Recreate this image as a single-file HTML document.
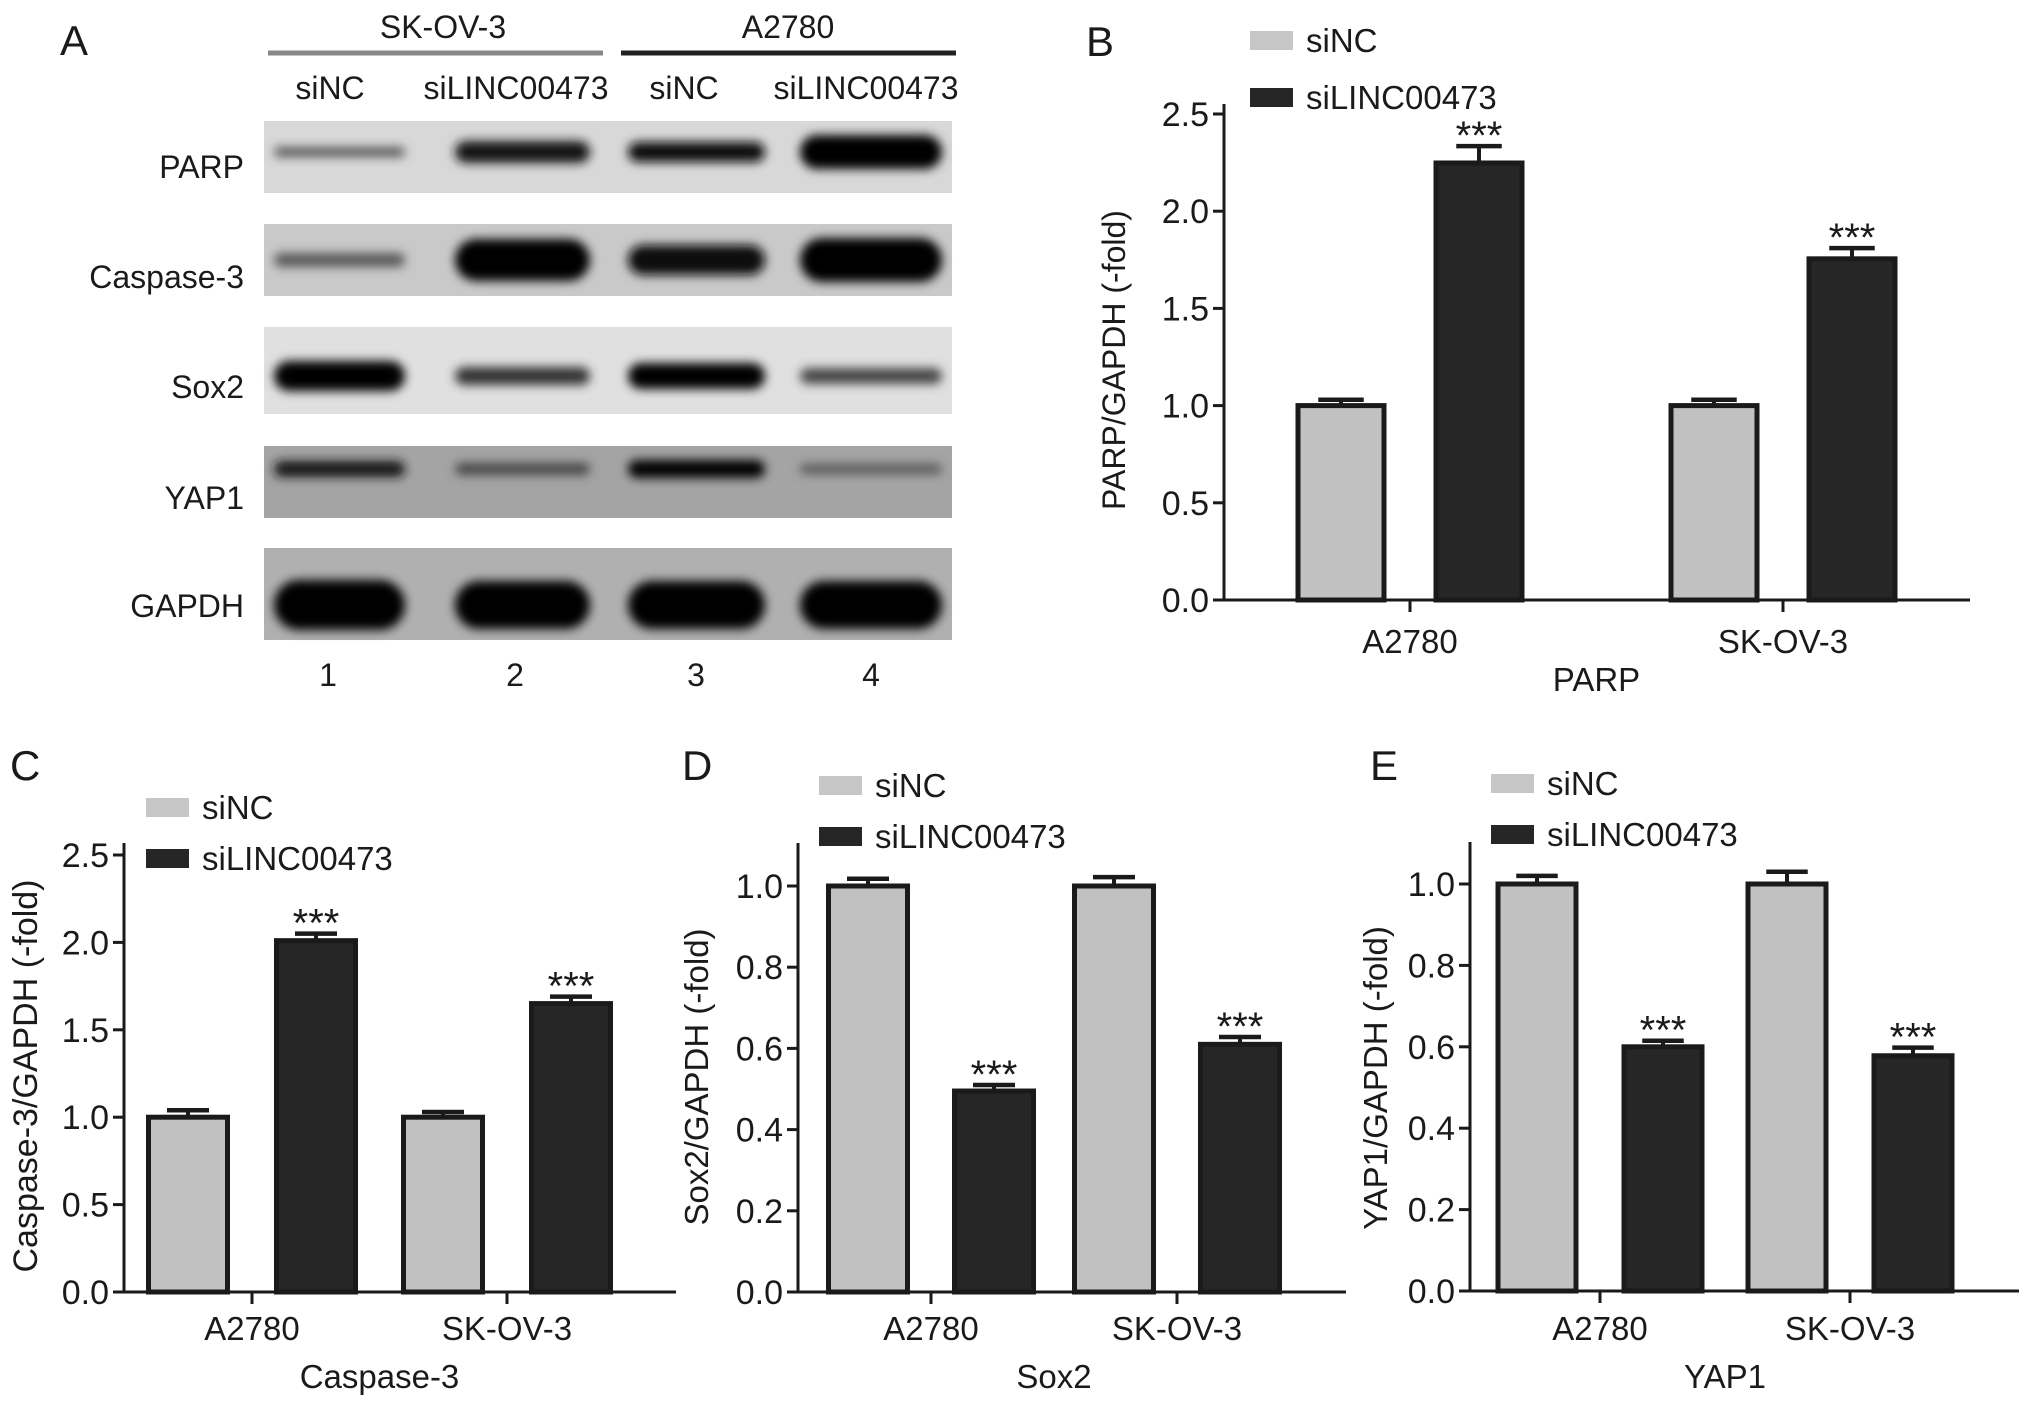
<!DOCTYPE html>
<html><head><meta charset="utf-8"><title>Figure</title>
<style>html,body{margin:0;padding:0;background:#fff}svg{display:block}text{font-family:"Liberation Sans",Arial,sans-serif;fill:#1a1a1a}</style>
</head><body>
<svg id="fig" xmlns="http://www.w3.org/2000/svg" width="2032" height="1405" viewBox="0 0 2032 1405">
<defs><filter id="blur" x="-20%" y="-100%" width="140%" height="300%"><feGaussianBlur stdDeviation="5"/></filter></defs>
<g id="panelA">
<text x="60" y="55" font-size="42">A</text>
<line x1="268" y1="53" x2="603" y2="53" stroke="#888" stroke-width="5"/>
<line x1="621" y1="53" x2="956" y2="53" stroke="#222" stroke-width="5"/>
<text x="443" y="38" font-size="32" text-anchor="middle">SK-OV-3</text>
<text x="788" y="38" font-size="32" text-anchor="middle">A2780</text>
<text x="330" y="99" font-size="32" text-anchor="middle">siNC</text>
<text x="516" y="99" font-size="32" text-anchor="middle">siLINC00473</text>
<text x="684" y="99" font-size="32" text-anchor="middle">siNC</text>
<text x="866" y="99" font-size="32" text-anchor="middle">siLINC00473</text>
<g id="blots"></g>
<text x="328" y="686" font-size="32" text-anchor="middle">1</text>
<text x="515" y="686" font-size="32" text-anchor="middle">2</text>
<text x="696" y="686" font-size="32" text-anchor="middle">3</text>
<text x="871" y="686" font-size="32" text-anchor="middle">4</text>
</g>
<g id="charts"></g>
</svg>
<script>
const NS="http://www.w3.org/2000/svg";
const categories=["A2780","SK-OV-3"];
const seriesNames=["siNC","siLINC00473"];
const parpNC=[1.0,1.0], parpSi=[2.248,1.755], parpNCErr=[0.03,0.03], parpSiErr=[0.087,0.055];
const caspNC=[1.0,1.0], caspSi=[2.01,1.65], caspNCErr=[0.04,0.03], caspSiErr=[0.04,0.04];
const sox2NC=[1.0,1.0], sox2Si=[0.495,0.61], sox2NCErr=[0.018,0.022], sox2SiErr=[0.015,0.018];
const yap1NC=[1.0,1.0], yap1Si=[0.60,0.578], yap1NCErr=[0.02,0.03], yap1SiErr=[0.015,0.02];
const ticks25=["0.0","0.5","1.0","1.5","2.0","2.5"];
const ticks10=["0.0","0.2","0.4","0.6","0.8","1.0"];
const blotRows=["PARP","Caspase-3","Sox2","YAP1","GAPDH"];
const parpBand=[0.5,0.9,0.92,1.0], caspBand=[0.5,1.0,0.95,1.0], sox2Band=[1.0,0.7,1.0,0.6], yap1Band=[0.9,0.6,0.98,0.5], gapdhBand=[1,1,1,1];

function el(tag,attrs,parent){const e=document.createElementNS(NS,tag);for(const k in attrs)e.setAttribute(k,attrs[k]);parent.appendChild(e);return e;}
function txt(parent,x,y,s,size,anchor,extra){const t=el('text',{x:x,y:y,'font-size':size,'text-anchor':anchor||'start'},parent);if(extra)for(const k in extra)t.setAttribute(k,extra[k]);t.textContent=s;return t;}

const blots=document.getElementById('blots');
const blotGeom=[{y0:121,y1:193,bg:'#d8d8d8',cy:152,h:[10,22,20,34]},{y0:224,y1:296,bg:'#c9c9c9',cy:260,h:[14,42,30,44]},{y0:327,y1:414,bg:'#e0e0e0',cy:376,h:[30,18,26,16]},{y0:446,y1:518,bg:'#a4a4a4',cy:469,h:[16,12,18,10]},{y0:548,y1:640,bg:'#b0b0b0',cy:605,h:[50,48,48,48]}];
const bandData=[parpBand,caspBand,sox2Band,yap1Band,gapdhBand];
const laneX=[[274,405],[455,590],[628,765],[800,942]];
const labelBase=[178,288,398,509,617];
blotGeom.forEach((g,r)=>{
  const rect=el('rect',{x:264,y:g.y0,width:688,height:g.y1-g.y0,fill:g.bg},blots);
  
  
  bandData[r].forEach((v,i)=>{
    const c=Math.round(255*(1-v)*0.7);
    const b=el('rect',{x:laneX[i][0],y:g.cy-g.h[i]/2,width:laneX[i][1]-laneX[i][0],height:g.h[i],rx:g.h[i]/2,fill:'rgb('+c+','+c+','+c+')',filter:'url(#blur)'},blots);
    
    
  });
  const l=txt(blots,244,labelBase[r],blotRows[r],32,'end');
  
  
});

const charts=document.getElementById('charts');
function chart(cfg){
  const g=el('g',{},charts);
  
  
  const ys=v=>cfg.y0-(v/cfg.max)*(cfg.y0-cfg.yMax);
  const xc=i=>cfg.c0+i*cfg.step;
  [[cfg.nc,cfg.ncErr,'#c1c1c1',-1],[cfg.si,cfg.siErr,'#262626',1]].forEach((s,si)=>{
    s[0].forEach((v,i)=>{
      const cx=xc(i)+s[3]*cfg.off, top=ys(v), et=ys(v+s[1][i]);
      const eb=el('g',{},g);
      
      
      el('line',{x1:cx,y1:top,x2:cx,y2:et,stroke:'#1a1a1a','stroke-width':4},eb);
      el('line',{x1:cx-cfg.w/4,y1:et,x2:cx+cfg.w/4,y2:et,stroke:'#1a1a1a','stroke-width':4.5},eb);
      const b=el('rect',{x:cx-cfg.w/2+2.5,y:top,width:cfg.w-5,height:cfg.y0-top,fill:s[2],stroke:'#1a1a1a','stroke-width':5},g);
      
      
      if(si===1){const a=txt(g,cx,et+3,'***',40,'middle');
        
        }
    });
  });
  const ax=el('line',{x1:cfg.x0,y1:cfg.axTop,x2:cfg.x0,y2:cfg.y0+1.5,stroke:'#1a1a1a','stroke-width':3},g);
  
  
  const xa=el('line',{x1:cfg.x0-1.5,y1:cfg.y0,x2:cfg.xEnd,y2:cfg.y0,stroke:'#1a1a1a','stroke-width':3},g);
  
  
  cfg.ticks.forEach(t=>{const y=ys(parseFloat(t));
    el('line',{x1:cfg.x0-11,y1:y,x2:cfg.x0,y2:y,stroke:'#1a1a1a','stroke-width':3},g);
    const l=txt(g,cfg.x0-15,y+12,t,34,'end');
    
    });
  categories.forEach((c,i)=>{
    el('line',{x1:xc(i),y1:cfg.y0,x2:xc(i),y2:cfg.y0+12,stroke:'#1a1a1a','stroke-width':3},g);
    const l=txt(g,xc(i),cfg.catY,c,33,'middle');
    
    });
  const ti=txt(g,(cfg.c0+cfg.c0+cfg.step)/2,cfg.titleY,cfg.title,33,'middle');
  
  
  const yt=txt(g,0,0,cfg.ytitle,cfg.ytSize,'middle',{transform:'translate('+cfg.ytX+','+cfg.ytY+') rotate(-90)'});
  
  
  const pl=txt(g,cfg.labX,cfg.labY,cfg.key.toUpperCase(),42,'start');
  
  
  [['#c6c6c6',cfg.lg[1]],['#262626',cfg.lg[2]]].forEach((s,i)=>{
    const lg=el('g',{},g);
    
    
    el('rect',{x:cfg.lg[0],y:s[1],width:43,height:19,fill:s[0]},lg);
    txt(lg,cfg.lg[0]+56,s[1]+21,seriesNames[i],33,'start');
  });
}
chart({key:'b',x0:1224,xEnd:1970,y0:600,yMax:114,max:2.5,axTop:104,c0:1410,step:373,off:69,w:91,nc:parpNC,si:parpSi,ncErr:parpNCErr,siErr:parpSiErr,ticks:ticks25,catY:653,titleY:691,title:'PARP',ytitle:'PARP/GAPDH (-fold)',ytSize:32,ytX:1125,ytY:360,labX:1086,labY:56,lg:[1250,31,88]});
chart({key:'c',x0:124,xEnd:676,y0:1292,yMax:855,max:2.5,axTop:843,c0:252,step:255,off:64,w:84,nc:caspNC,si:caspSi,ncErr:caspNCErr,siErr:caspSiErr,ticks:ticks25,catY:1340,titleY:1388,title:'Caspase-3',ytitle:'Caspase-3/GAPDH (-fold)',ytSize:34,ytX:37,ytY:1076,labX:10,labY:780,lg:[146,798,849]});
chart({key:'d',x0:798,xEnd:1346,y0:1292,yMax:886,max:1.0,axTop:843,c0:931,step:246,off:63,w:84,nc:sox2NC,si:sox2Si,ncErr:sox2NCErr,siErr:sox2SiErr,ticks:ticks10,catY:1340,titleY:1388,title:'Sox2',ytitle:'Sox2/GAPDH (-fold)',ytSize:33,ytX:708,ytY:1077,labX:682,labY:780,lg:[819,776,827]});
chart({key:'e',x0:1470,xEnd:2019,y0:1291,yMax:884,max:1.0,axTop:842,c0:1600,step:250,off:63,w:83,nc:yap1NC,si:yap1Si,ncErr:yap1NCErr,siErr:yap1SiErr,ticks:ticks10,catY:1340,titleY:1388,title:'YAP1',ytitle:'YAP1/GAPDH (-fold)',ytSize:33,ytX:1387,ytY:1078,labX:1370,labY:780,lg:[1491,774,825]});
</script>
</body></html>
